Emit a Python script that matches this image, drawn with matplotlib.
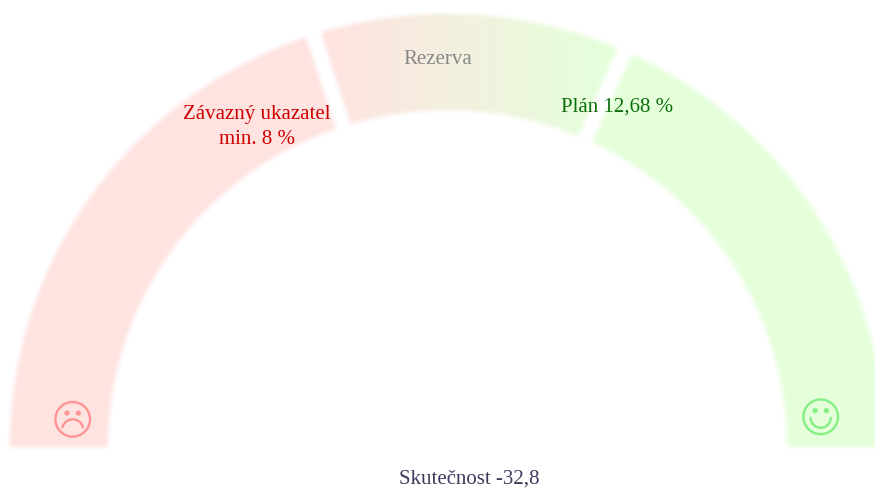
import numpy as np
import matplotlib
matplotlib.use("Agg")
import matplotlib.pyplot as plt
from matplotlib.patches import Circle

plt.rcParams['font.family'] = ['Liberation Serif', 'DejaVu Serif']

# Gauge scale and thresholds
scale_min = 0.0
scale_max = 20.0
threshold_values = [8.0, 12.68]
band_colors = ['#FFE3E1', '#E5FFDB']
band_labels = ['Závazný ukazatel\nmin. 8 %', 'Rezerva', 'Plán 12,68 %']
actual_label = 'Skutečnost -32,8'

W, H = 875, 488
cx, cy = 447.5, 447.0
rx_out, ry_out = 437.5, 433.0
rx_in, ry_in = 339.5, 337.0
gap = 7.8
soft = 3.2

fig = plt.figure(figsize=(W / 100, H / 100), dpi=100)
ax = fig.add_axes([0, 0, 1, 1])
ax.set_xlim(0, W)
ax.set_ylim(H, 0)
ax.axis('off')


def edge(d):
    return np.clip((d + soft) / (2 * soft), 0, 1)


def val_to_angle(v):
    return np.pi * (1 - (v - scale_min) / (scale_max - scale_min))


xx, yy = np.meshgrid(np.arange(W) + 0.5, np.arange(H) + 0.5)
dx, dy = xx - cx, cy - yy
r_o = np.hypot(dx * ry_out / rx_out, dy)
r_i = np.hypot(dx * ry_in / rx_in, dy)
alpha = edge(ry_out - r_o) * edge(r_i - ry_in) * edge(dy)
edges_x = []
rmid = (ry_out + ry_in) / 2
for v in threshold_values:
    a = val_to_angle(v)
    dist = np.abs(dx * np.sin(a) - dy * np.cos(a))
    alpha = alpha * edge(dist - gap)
    edges_x.append(cx + rmid * np.cos(a))

c0 = np.array(matplotlib.colors.to_rgb(band_colors[0]))
c1 = np.array(matplotlib.colors.to_rgb(band_colors[1]))
t = np.clip((xx - edges_x[0]) / (edges_x[1] - edges_x[0]), 0, 1)[..., None]
rgba = np.dstack([c0 * (1 - t) + c1 * t, alpha])
ax.imshow(rgba, extent=(0, W, H, 0), interpolation='bilinear', aspect='auto', zorder=1)


def face(x, y, color, happy):
    r = 17.3
    lw = 1.7
    ax.add_patch(Circle((x, y), r, fill=False, ec=color, lw=lw, zorder=2))
    for sx in (-5.7, 5.7):
        ax.add_patch(Circle((x + sx, y - 6.2), 2.6, fc=color, ec='none', zorder=2))
    if happy:
        th = np.linspace(0, np.pi, 40)
        ax.plot(x + 10 * np.cos(th), y + 1 + 10 * np.sin(th), color=color, lw=lw,
                solid_capstyle='round', zorder=2)
    else:
        th = np.linspace(0.08 * np.pi, 0.92 * np.pi, 40)
        ax.plot(x + 10.5 * np.cos(th), y + 10.5 - 10.5 * np.sin(th), color=color, lw=lw,
                solid_capstyle='round', zorder=2)


face(72.7, 419.3, '#FF9494', False)
face(820.7, 416.8, '#84F084', True)

fs = 15
line1, line2 = band_labels[0].split('\n')
ax.text(257, 118.5, line1, color='#CC0000', fontsize=fs, ha='center', va='baseline', zorder=3)
ax.text(257, 143.5, line2, color='#CC0000', fontsize=fs, ha='center', va='baseline', zorder=3)
ax.text(438, 64, band_labels[1], color='#888888', fontsize=fs, ha='center', va='baseline', zorder=3)
ax.text(617, 112, band_labels[2], color='#0B6E0B', fontsize=fs, ha='center', va='baseline', zorder=3)
ax.text(469.5, 483.5, actual_label, color='#3D3A5C', fontsize=fs, ha='center', va='baseline', zorder=3)

fig.savefig('out.png', dpi=100)
